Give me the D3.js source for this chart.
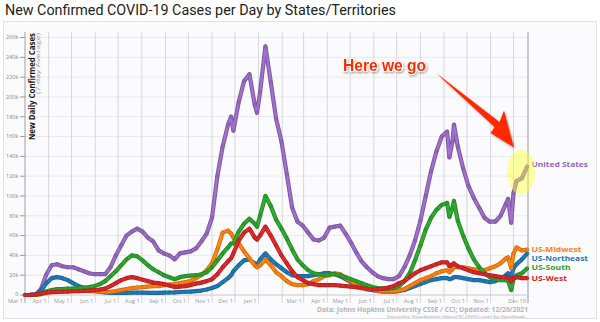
<!DOCTYPE html>
<html><head><meta charset="utf-8">
<script src="https://cdn.jsdelivr.net/npm/d3@7"></script>
<style>html,body{margin:0;padding:0;background:#fff;}svg{display:block;}</style>
</head><body>
<svg id="chart" width="600" height="322"></svg>
<script>
const dates = [
"2020-03-01","2020-03-08","2020-03-15","2020-03-22","2020-03-29","2020-04-05","2020-04-12","2020-04-19","2020-04-26","2020-05-03",
"2020-05-10","2020-05-17","2020-05-24","2020-05-31","2020-06-07","2020-06-14","2020-06-21","2020-06-28","2020-07-05","2020-07-12",
"2020-07-19","2020-07-26","2020-08-02","2020-08-09","2020-08-16","2020-08-23","2020-08-30","2020-09-06","2020-09-13","2020-09-20",
"2020-09-27","2020-10-04","2020-10-11","2020-10-18","2020-10-25","2020-11-01","2020-11-08","2020-11-15","2020-11-22","2020-11-26",
"2020-11-29","2020-12-06","2020-12-13","2020-12-20","2020-12-27","2020-12-30","2021-01-03","2021-01-10","2021-01-17","2021-01-24",
"2021-01-31","2021-02-07","2021-02-14","2021-02-21","2021-02-28","2021-03-07","2021-03-14","2021-03-21","2021-03-28","2021-04-04",
"2021-04-11","2021-04-18","2021-04-25","2021-05-02","2021-05-09","2021-05-16","2021-05-23","2021-05-30","2021-06-06","2021-06-13",
"2021-06-20","2021-06-27","2021-07-04","2021-07-11","2021-07-18","2021-07-25","2021-08-01","2021-08-08","2021-08-15","2021-08-22",
"2021-08-29","2021-09-05","2021-09-08","2021-09-12","2021-09-14","2021-09-19","2021-09-26","2021-10-03","2021-10-10","2021-10-17",
"2021-10-24","2021-10-31","2021-11-07","2021-11-14","2021-11-21","2021-11-24","2021-11-28","2021-12-01","2021-12-05","2021-12-12",
"2021-12-19"];

// values in thousands of cases (7-day average)
const unitedStates = [
0,0.1,0.6,6,21,30,31,29,28,28,
26,24,22,21,21,21,28,40,50,60,
64,67,64,58,54,45,42,40,36,42,
43,44,47,54,62,78,120,150,172,180,
166,195,216,223,192,184,205,251,215,178,
155,122,88,74,70,63,56,55,58,68,
69,70,62,53,43,34,28,23,19,17,
16,16,19,28,40,55,75,100,125,145,
160,165,139,155,172,150,128,110,98,88,
78,74,74,80,92,97,73,103,115,118,
130];
const usSouth = [
0,0,0.2,1.2,3.5,5,6,6,6.5,6.5,
7,7.5,8,9,11,14,19,24,30,36,
40,39,35,30,26,23,20,18,16,18,
19,19.5,20,21,23,28,35,42,48,52,
52,64,72,77,72,69,80,100,90,76,
67,57,46,36,30,25,22,21,20,21,
21,20,18,16,14,12,10,8,7,6.5,
6.5,7,9,14,22,35,50,66,78,86,
91,93,79,88,95,75,60,47,36,28,
22,18,16,15,15,14,5,16,20,22,
27];
const usMidwest = [
0,0,0.1,0.8,2,3,3.5,4,5,5.5,
5,4.5,4,4,3.5,3,3.2,4,5,6,
7,7.5,8,8.5,9,9,10,10.5,11,12,
13,14,17,20,25,32,46,63,65,62,
58,52,44,37,30,28,30,36,30,23,
19,14,11,10,10,11,14,16,19,20,
22,21,17,14,10,8,6,5,4.5,4,
4,4,4.5,6,9,12,15,17,19,22,
24,25,23,26,28,28,28,27,26,25,
25,27,29,32,37,38,27,42,48,45,
46];
const usNortheast = [
0,0.1,0.6,4,12,17,18,17,15,12,
9,7,5,4,3,2.5,2,2,2,2.2,
2.3,2.3,2.3,2.2,2.2,2.2,2.3,2.5,2.6,3,
3.3,3.5,4,4.5,5.5,7,9,13,17,20,
24,30,35,36,32,30,36,42,36,31,
27,23,20,19,19,19,20,21,22,22,
21,19,16,13,10,8,6,5,4,3.5,
3.5,3.5,4,5,7,9,11,13,15,16,
17,17,16,17,18,18,17,16,15,15,
14,13,14,16,20,22,18,27,31,36,
42];
const usWest = [
0,0.1,0.5,1.5,2.5,3,3.2,3.3,3.5,3.8,
4,4.2,4.5,5,5.5,6.5,9,12,15,17,
18,17,15.5,14,12.5,12,11,9.5,8,8.5,
9,10,11.5,12.5,14,16,21,28,34,37,
42,55,63,67,58,56,60,69,60,50,
40,32,24,18,15,12,11,10,10,10,
10,9.5,9,8.5,8,7,6,5.5,6,6.5,
7.5,9,12,14,18,22,25,27,29,31,
33,33,29,31,32,29,27,25,23,22,
21,20,19,18,18,18,14,17,18,17,
17];

const seriesNames = ["United States","US-Northeast","US-Midwest","US-South","US-West"];
const seriesValues = [unitedStates, usNortheast, usMidwest, usSouth, usWest];
const seriesColors = ["#9467bd","#1f77b4","#ff7f0e","#2ca02c","#d62728"];
const yTickValues = [0,20,40,60,80,100,120,140,160,180,200,220,240,260];
const xHiddenLabels = ["2021-02","2021-12"];
const endLabel = "Dec 19";

const parse = d3.timeParse("%Y-%m-%d");
const svg = d3.select("#chart");
const font = "'Open Sans', 'Noto Sans', sans-serif";

const x = d3.scaleTime().domain([parse("2020-03-01"), parse("2021-12-20")]).range([25, 528]);
const y = d3.scaleLinear().domain([0, 265.6]).range([295, 32]);

// container box
svg.append("rect").attr("x",3.5).attr("y",21.5).attr("width",593).attr("height",297)
  .attr("fill","#fbfbfd").attr("stroke","#e2e2e6");

// defs
const defs = svg.append("defs");
const f = defs.append("filter").attr("id","shadow").attr("x","-20%").attr("y","-20%").attr("width","140%").attr("height","140%");
f.append("feDropShadow").attr("dx",1).attr("dy",1.2).attr("stdDeviation",0.9).attr("flood-color","#000").attr("flood-opacity",0.35);

// title
svg.append("text").attr("x",5).attr("y",15).attr("font-family","Roboto, sans-serif").attr("font-size",13.8)
  .attr("fill","#222").attr("textLength",391).attr("lengthAdjust","spacingAndGlyphs")
  .text("New Confirmed COVID-19 Cases per Day by States/Territories");

// horizontal grid
svg.append("g").selectAll("line").data(yTickValues.filter(d=>d>0)).join("line")
  .attr("x1",25).attr("x2",528).attr("y1",d=>y(d)).attr("y2",d=>y(d))
  .attr("stroke","#eaeaee").attr("stroke-width",1);

// vertical grid (monthly)
const months = d3.timeMonth.range(parse("2020-04-01"), parse("2021-12-20"));
svg.append("g").selectAll("line").data(months).join("line")
  .attr("x1",d=>x(d)).attr("x2",d=>x(d)).attr("y1",32).attr("y2",303)
  .attr("stroke","#d6d6db").attr("stroke-width",1);
// end line
svg.append("line").attr("x1",x(parse("2021-12-20"))).attr("x2",x(parse("2021-12-20")))
  .attr("y1",32).attr("y2",303).attr("stroke","#b8b8bc").attr("stroke-width",1.5);

// axes lines
svg.append("line").attr("x1",25).attr("x2",25).attr("y1",32).attr("y2",303).attr("stroke","#a0a0a4").attr("stroke-width",1);
svg.append("line").attr("x1",25).attr("x2",528).attr("y1",295).attr("y2",295).attr("stroke","#c8c8cc").attr("stroke-width",1);

// y ticks
const yt = svg.append("g");
yt.selectAll("line").data(yTickValues).join("line")
  .attr("x1",20).attr("x2",25).attr("y1",d=>y(d)).attr("y2",d=>y(d)).attr("stroke","#999");
yt.selectAll("text").data(yTickValues).join("text")
  .attr("x",18.5).attr("y",d=> d===0 ? y(d)+0.6 : y(d)+1.8).attr("text-anchor","end")
  .attr("font-family",font).attr("font-size",5.6).attr("fill","#888")
  .text(d=> d===0 ? "0" : d+"k");

// x tick labels
const fmt = d3.timeFormat("%b %-d");
const monthKey = d3.timeFormat("%Y-%m");
const labelMonths = [parse("2020-03-01")].concat(months).filter(d=>!xHiddenLabels.includes(monthKey(d)));
const xt = svg.append("g");
xt.selectAll("text").data(labelMonths).join("text")
  .attr("x",d=>x(d)-2).attr("y",303.4).attr("text-anchor","end")
  .attr("font-family",font).attr("font-size",5.6).attr("fill","#9a9a9a")
  .text(d=>fmt(d));
xt.append("text").attr("x",x(parse("2021-12-20"))-2).attr("y",303.4).attr("text-anchor","end")
  .attr("font-family",font).attr("font-size",5.6).attr("fill","#9a9a9a").text(endLabel);

// y axis titles
svg.append("text").attr("transform","translate(34.8,33) rotate(-90)").attr("text-anchor","end")
  .attr("font-family",font).attr("font-weight","bold").attr("font-size",8.4).attr("fill","#1a1a1a")
  .attr("textLength",107).attr("lengthAdjust","spacingAndGlyphs")
  .text("New Daily Confirmed Cases");
svg.append("text").attr("transform","translate(40.2,33) rotate(-90)").attr("text-anchor","end")
  .attr("font-family",font).attr("font-size",5.9).attr("fill","#999")
  .attr("textLength",61).attr("lengthAdjust","spacingAndGlyphs")
  .text("(7-day Average)");

// series
const dts = dates.map(parse);
const line = d3.line().x((d,i)=>x(dts[i])).y(d=>y(d));
const gSeries = svg.append("g");
seriesValues.forEach((vals, si) => {
  const c = seriesColors[si];
  const g = gSeries.append("g");
  g.append("path").datum(vals).attr("d",line).attr("fill","none")
    .attr("stroke",d3.color(c).darker(0.45)).attr("stroke-width",4.2).attr("stroke-linejoin","round");
  g.append("path").datum(vals).attr("d",line).attr("fill","none")
    .attr("stroke",d3.color(c).brighter(0.25)).attr("stroke-width",2.2).attr("stroke-linejoin","round");
  g.selectAll("circle").data(vals).join("circle")
    .attr("cx",(d,i)=>x(dts[i])).attr("cy",d=>y(d)).attr("r",1.7)
    .attr("fill",c).attr("stroke",d3.color(c).darker(0.6)).attr("stroke-width",0.5);
});

// series labels
const labelY = [164.3, 258.0, 249.0, 266.8, 278.4];
const labelLen = [56.5, 56.5, 50, 39, 35.5];
svg.append("g").selectAll("text").data(seriesNames).join("text")
  .attr("x",531.5).attr("y",(d,i)=>labelY[i]+2.7)
  .attr("font-family","'Noto Sans', sans-serif").attr("font-weight","bold").attr("font-size",7.5)
  .attr("fill",(d,i)=>seriesColors[i])
  .attr("textLength",(d,i)=>labelLen[i]).attr("lengthAdjust","spacingAndGlyphs")
  .text(d=>d);

// highlight ellipse
svg.append("ellipse").attr("cx",521).attr("cy",172).attr("rx",14).attr("ry",22.5)
  .attr("fill","#ffff33").attr("opacity",0.45);

// annotation arrow
svg.append("path")
  .attr("d","M436,73 L499.5,122 L504,110.5 L514,147.5 L490.5,133 L494.5,127 Z")
  .attr("fill","#ff2a00").attr("filter","url(#shadow)");
svg.append("text").attr("x",343).attr("y",71).attr("font-family","'Liberation Sans', Arial, sans-serif")
  .attr("font-weight","bold").attr("font-size",16).attr("fill","#ff2a00")
  .attr("stroke","#fff").attr("stroke-width",2.2).attr("paint-order","stroke")
  .attr("textLength",83).attr("lengthAdjust","spacingAndGlyphs")
  .attr("filter","url(#shadow)")
  .text("Here we go");

// source
svg.append("text").attr("x",528).attr("y",311.8).attr("text-anchor","end")
  .attr("font-family",font).attr("font-weight","bold").attr("font-size",6.8)
  .attr("fill","#b4b4b8").attr("textLength",211).attr("lengthAdjust","spacingAndGlyphs")
  .text("Data: Johns Hopkins University CSSE / CCI; Updated: 12/20/2021");
svg.append("text").attr("x",528).attr("y",318.2).attr("text-anchor","end")
  .attr("font-family",font).attr("font-size",4.3)
  .attr("fill","#a0a0a4").attr("textLength",141).attr("lengthAdjust","spacingAndGlyphs")
  .text("Interactive Visualization: https://91-DIVOC.com/ by @profwade_");
</script>
</body></html>
